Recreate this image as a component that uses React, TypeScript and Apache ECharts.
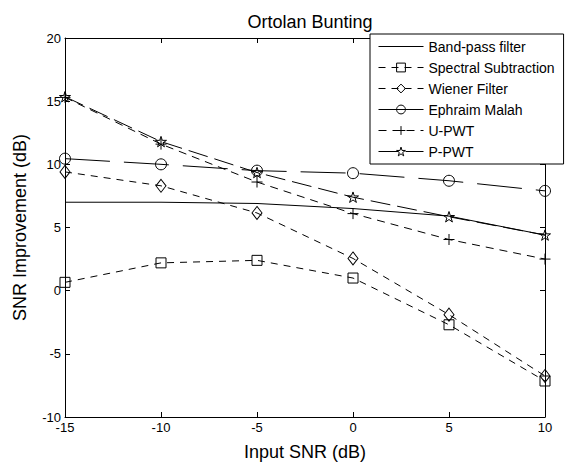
import React, { useEffect, useRef } from "react";
import * as echarts from "echarts";

const xValues = [-15, -10, -5, 0, 5, 10];
const bandPass = [7.0, 7.0, 6.9, 6.5, 5.9, 4.4];
const spectral = [0.66, 2.2, 2.4, 1.0, -2.7, -7.15];
const wiener = [9.4, 8.3, 6.15, 2.55, -1.9, -6.75];
const ephraim = [10.45, 10.0, 9.5, 9.3, 8.7, 7.9];
const upwt = [15.3, 11.6, 8.6, 6.1, 4.05, 2.5];
const ppwt = [15.35, 11.8, 9.35, 7.4, 5.85, 4.4];

const xTicks = [-15, 10, 5];
const yTicks = [-10, 20, 5];

const FONT = "'Liberation Sans', Arial, Helvetica, sans-serif";
const PLUS = "path://M0,5L10,5M5,0L5,10";
const STAR =
  "path://M10,0L12.25,6.91L19.51,6.91L13.63,11.18L15.88,18.09L10,13.82L4.12,18.09L6.37,11.18L0.49,6.91L7.75,6.91Z";

const HOLLOW = { color: "rgba(0,0,0,0)", borderColor: "#000", borderWidth: 1 };

function mk(
  name: string,
  vals: number[],
  symbol: string,
  size: number | number[],
  type: any
) {
  return {
    name,
    type: "line",
    data: xValues.map((x, i) => [x, vals[i]]),
    symbol,
    symbolSize: size,
    symbolKeepAspect: true,
    showSymbol: symbol !== "none",
    lineStyle: { color: "#000", width: 1, type },
    itemStyle: HOLLOW,
    emphasis: { disabled: true },
    z: 3,
  };
}

export default function App() {
  const ref = useRef<HTMLDivElement>(null);
  useEffect(() => {
    document.body.style.margin = "0";
    const chart = echarts.init(ref.current!, null, { renderer: "svg" });
    const axisCommon = {
      type: "value",
      splitLine: { show: false },
      axisLine: { show: true, onZero: false, lineStyle: { color: "#000", width: 1 } },
      axisTick: { show: true, inside: true, length: 5, lineStyle: { color: "#000" } },
    };
    chart.setOption({
      animation: false,
      backgroundColor: "#fff",
      title: {
        text: "Ortolan Bunting",
        left: 305,
        textAlign: "center",
        top: 8,
        textStyle: { fontFamily: FONT, fontSize: 18, fontWeight: "normal", color: "#000" },
      },
      grid: { left: 65, right: 20, top: 38, bottom: 53, containLabel: false },
      legend: {
        orient: "vertical",
        left: 370,
        top: 34,
        padding: [5, 9, 5, 8],
        itemWidth: 45,
        itemHeight: 11,
        itemGap: 6,
        backgroundColor: "#fff",
        borderColor: "#000",
        borderWidth: 1,
        borderRadius: 0,
        itemStyle: { color: "rgba(0,0,0,0)", borderColor: "#000", borderWidth: 1 },
        lineStyle: { color: "#000", width: 1 },
        textStyle: { fontFamily: FONT, fontSize: 14, color: "#000", lineHeight: 15 },
        data: [
          { name: "Band-pass filter", itemStyle: { color: "rgba(0,0,0,0)", borderWidth: 0, borderColor: "rgba(0,0,0,0)" } },
          { name: "Spectral Subtraction" },
          { name: "Wiener Filter" },
          { name: "Ephraim Malah" },
          { name: "U-PWT" },
          { name: "P-PWT" },
        ],
        z: 10,
      },
      xAxis: [
        {
          ...axisCommon,
          position: "bottom",
          min: xTicks[0],
          max: xTicks[1],
          interval: xTicks[2],
          name: "Input SNR (dB)",
          nameLocation: "middle",
          nameGap: 26,
          nameTextStyle: { fontFamily: FONT, fontSize: 18, color: "#000" },
          axisLabel: { fontFamily: FONT, fontSize: 13, color: "#000", margin: 4 },
        },
        {
          ...axisCommon,
          position: "top",
          min: xTicks[0],
          max: xTicks[1],
          interval: xTicks[2],
          axisLabel: { show: false },
        },
      ],
      yAxis: [
        {
          ...axisCommon,
          position: "left",
          min: yTicks[0],
          max: yTicks[1],
          interval: yTicks[2],
          name: "SNR Improvement (dB)",
          nameLocation: "middle",
          nameGap: 36,
          nameTextStyle: { fontFamily: FONT, fontSize: 18, color: "#000" },
          axisLabel: { fontFamily: FONT, fontSize: 13, color: "#000", margin: 4 },
        },
        {
          ...axisCommon,
          position: "right",
          min: yTicks[0],
          max: yTicks[1],
          interval: yTicks[2],
          axisLabel: { show: false },
        },
      ],
      series: [
        mk("Band-pass filter", bandPass, "none", 0, "solid"),
        mk("Spectral Subtraction", spectral, "rect", 10, [7, 6]),
        mk("Wiener Filter", wiener, "diamond", [10, 13], [7, 6]),
        mk("Ephraim Malah", ephraim, "circle", 11, [45, 14]),
        mk("U-PWT", upwt, PLUS, 11, [8, 6]),
        mk("P-PWT", ppwt, STAR, 11, [20, 7]),
      ],
    });
    return () => chart.dispose();
  }, []);
  return (
    <div
      ref={ref}
      style={{ position: "absolute", left: 0, top: 0, width: 565, height: 470 }}
    />
  );
}
